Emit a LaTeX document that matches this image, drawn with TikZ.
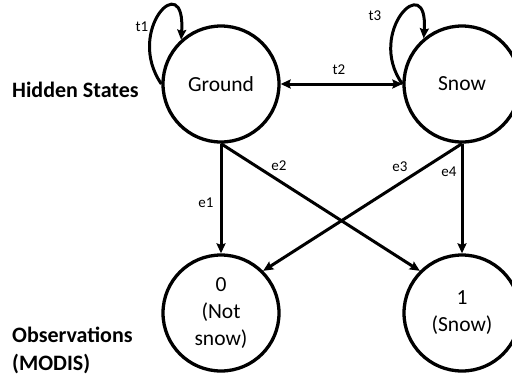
\documentclass[tikz,border=0pt]{standalone}
\usepackage{fontspec}
\setmainfont{Carlito}
\usetikzlibrary{arrows.meta}
\begin{document}
\begin{tikzpicture}[x=1pt,y=-1pt,
  >={Stealth[length=10pt,width=9pt,inset=1.5pt]},
  state/.style={circle,draw,line width=3.3pt,minimum size=116pt,inner sep=0pt,
    font=\fontsize{21.5}{27}\selectfont,align=center},
  conn/.style={line width=3pt,->},
  lab/.style={font=\fontsize{15}{18}\selectfont,inner sep=0pt},
  side/.style={font=\bfseries\fontsize{22}{26}\selectfont,inner sep=0pt,anchor=base west}]
\useasboundingbox (0,0) rectangle (512,376);
\node[state] (g) at (221,84) {Ground};
\node[state] (s) at (462,84) {Snow};
\node[state] (o0) at (221,313) {0\\(Not\\snow)};
\node[state] (o1) at (462,313) {1\\(Snow)};
\node[side] (hs) at (12,97) {Hidden States};
\node[side] (ob1) at (12,342) {Observations};
\node[side] (ob2) at (12,370) {(MODIS)};
% connectors
\draw[conn,<->] (g.east) -- (s.west);
\draw[conn] (g.180) .. controls +(-37,-54) and +(5,-73) .. (g.132);
\draw[conn] (s.180) .. controls +(-37,-52) and +(5,-70) .. (s.130);
\draw[conn] (g.south) -- (o0.north);
\draw[conn] (g.south) -- (o1.135);
\draw[conn] (s.south) -- (o0.45);
\draw[conn] (s.south) -- (o1.north);
% labels
\node[lab] (lt1) at (142,27) {t1};
\node[lab] (lt2) at (339,70) {t2};
\node[lab] (lt3) at (375,16) {t3};
\node[lab] (le1) at (206,203) {e1};
\node[lab] (le2) at (279,166) {e2};
\node[lab] (le3) at (400,167) {e3};
\node[lab] (le4) at (449,172) {e4};
\end{tikzpicture}
\end{document}
